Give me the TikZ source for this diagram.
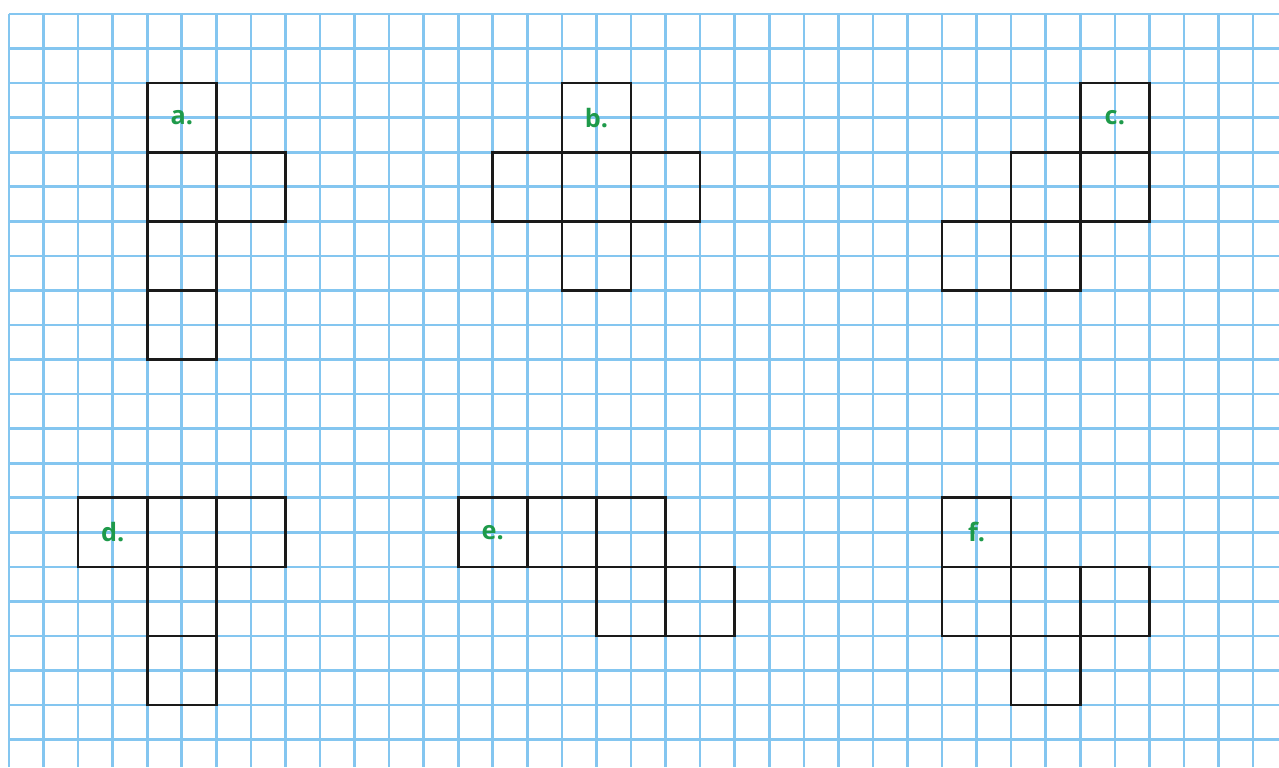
\documentclass[tikz,border=0pt]{standalone}
\usepackage{fontspec}
\setmainfont{Open Sans}
\usepackage{tikz}
\usetikzlibrary{positioning}
\definecolor{gridblue}{HTML}{84C6F0}
\definecolor{netgreen}{HTML}{1E9A4A}
\definecolor{darkline}{HTML}{1A1A1A}

\begin{document}
\begin{tikzpicture}[x=0.6cm, y=-0.6cm,
  gridline/.style={draw=gridblue, line width=1.3pt},
  face/.style={rectangle, draw=darkline, line width=1.3pt,
               minimum size=1.2cm, inner sep=0pt, outer sep=0pt,
               font=\fontsize{12.5}{14}\selectfont\bfseries, text=netgreen},
]
  \fill[white] (-0.26,-0.405) rectangle (36.75,21.79);
  \useasboundingbox (-0.26,-0.405) rectangle (36.75,21.79);

  % squared paper
  \foreach \i in {0,...,36}
    \draw[gridline] (\i,0) -- (\i,21.79);
  \foreach \j in {0,...,21}
    \draw[gridline] (0,\j) -- (36.75,\j);

  % net a
  \node[face] (a1) at (5,3) {a.};
  \node[face, below=0pt of a1] (a2) {};
  \node[face, right=0pt of a2] (a3) {};
  \node[face, below=0pt of a2] (a4) {};
  \node[face, below=0pt of a4] (a5) {};

  % net b
  \node[face] (b1) at (17,3) {b.};
  \node[face, below=0pt of b1] (b2) {};
  \node[face, left=0pt of b2] (b3) {};
  \node[face, right=0pt of b2] (b4) {};
  \node[face, below=0pt of b2] (b5) {};

  % net c
  \node[face] (c1) at (32,3) {c.};
  \node[face, below=0pt of c1] (c2) {};
  \node[face, left=0pt of c2] (c3) {};
  \node[face, below=0pt of c3] (c4) {};
  \node[face, left=0pt of c4] (c5) {};

  % net d
  \node[face] (d1) at (3,15) {d.};
  \node[face, right=0pt of d1] (d2) {};
  \node[face, right=0pt of d2] (d3) {};
  \node[face, below=0pt of d2] (d4) {};
  \node[face, below=0pt of d4] (d5) {};

  % net e
  \node[face] (e1) at (14,15) {e.};
  \node[face, right=0pt of e1] (e2) {};
  \node[face, right=0pt of e2] (e3) {};
  \node[face, below=0pt of e3] (e4) {};
  \node[face, right=0pt of e4] (e5) {};

  % net f
  \node[face] (f1) at (28,15) {f.};
  \node[face, below=0pt of f1] (f2) {};
  \node[face, right=0pt of f2] (f3) {};
  \node[face, right=0pt of f3] (f4) {};
  \node[face, below=0pt of f3] (f5) {};
\end{tikzpicture}
\end{document}
